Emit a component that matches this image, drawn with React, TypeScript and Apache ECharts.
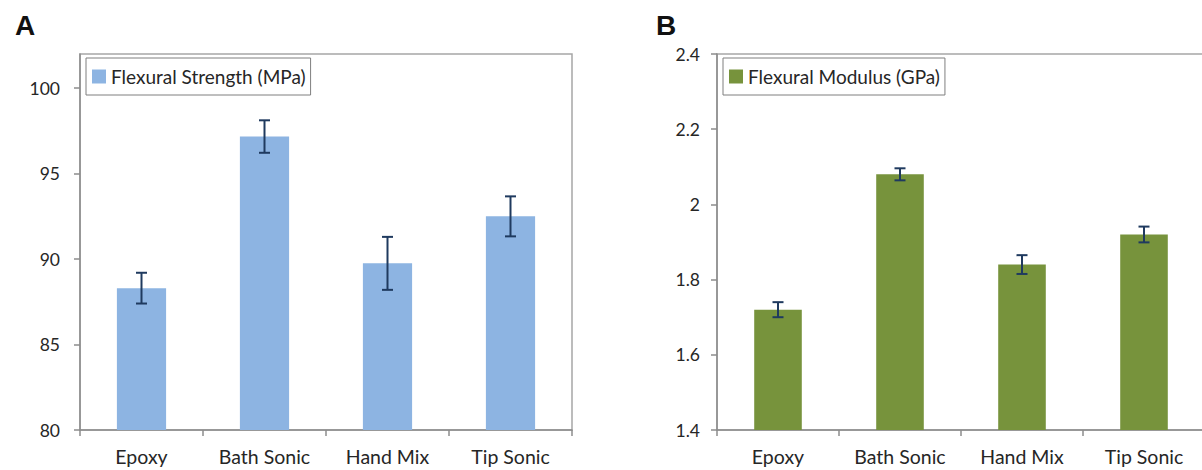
import React, { useEffect, useRef } from "react";
import * as echarts from "echarts";

// Sample preparation methods shown on both panels
const categories = ["Epoxy", "Bath Sonic", "Hand Mix", "Tip Sonic"];

// Panel A: flexural strength (MPa), mean and ± error
const strengthName = "Flexural Strength (MPa)";
const strengthMean = [88.3, 97.17, 89.75, 92.5];
const strengthErr = [0.9, 0.95, 1.55, 1.17];
const strengthTicks = [80, 85, 90, 95, 100];

// Panel B: flexural modulus (GPa), mean and ± error
const modulusName = "Flexural Modulus (GPa)";
const modulusMean = [1.72, 2.08, 1.84, 1.92];
const modulusErr = [0.02, 0.016, 0.025, 0.021];
const modulusTicks = [1.4, 1.6, 1.8, 2, 2.2, 2.4];

const FONT = "Lato, 'Liberation Sans', sans-serif";
const TEXT = "#262626";
const AXIS = "#8c8c8c";
const BOX = "#a6a6a6";
const ERR = "#1f3a5f";

function errorRenderer(params: any, api: any) {
  const idx = api.value(0);
  const lo = api.coord([idx, api.value(1)]);
  const hi = api.coord([idx, api.value(2)]);
  const half = 5.5;
  const style = { stroke: ERR, lineWidth: 2 };
  return {
    type: "group",
    children: [
      { type: "line", shape: { x1: hi[0], y1: hi[1], x2: lo[0], y2: lo[1] }, style },
      { type: "line", shape: { x1: hi[0] - half, y1: hi[1], x2: hi[0] + half, y2: hi[1] }, style },
      { type: "line", shape: { x1: lo[0] - half, y1: lo[1], x2: lo[0] + half, y2: lo[1] }, style },
    ],
  };
}

function xAxisFor(gridIndex: number) {
  return {
    type: "category",
    gridIndex,
    data: categories,
    axisLine: { lineStyle: { color: AXIS, width: 1.5 } },
    axisTick: { show: true, interval: 0, length: 6, lineStyle: { color: AXIS, width: 1.5 } },
    axisLabel: { interval: 0, color: TEXT, fontFamily: FONT, fontSize: 19.5, margin: 16 },
    splitLine: { show: false },
    splitArea: { show: false },
  };
}

function yAxisFor(gridIndex: number, min: number, max: number, ticks: number[], margin: number) {
  return {
    type: "value",
    gridIndex,
    min,
    max,
    axisLine: { show: true, lineStyle: { color: AXIS, width: 1.5 } },
    axisTick: { show: true, length: 6, customValues: ticks, lineStyle: { color: AXIS, width: 1.5 } },
    axisLabel: { color: TEXT, fontFamily: FONT, fontSize: 17.5, margin, customValues: ticks },
    splitLine: { show: false },
    splitArea: { show: false },
  };
}

function legendFor(name: string, left: number) {
  return {
    data: [name],
    left,
    top: 58,
    orient: "horizontal",
    icon: "rect",
    itemWidth: 14,
    itemHeight: 14,
    itemGap: 0,
    padding: [9, 5, 9, 6],
    borderColor: "#7f7f7f",
    borderWidth: 1,
    backgroundColor: "#fff",
    textStyle: { color: TEXT, fontFamily: FONT, fontSize: 19, lineHeight: 19 },
  };
}

const letterStyle = {
  fontFamily: "'Liberation Sans', Arial, sans-serif",
  fontWeight: "bold",
  fontSize: 28,
  color: "#111",
};

export default function App() {
  const ref = useRef<HTMLDivElement>(null);

  useEffect(() => {
    // Panel B's frame runs on past the right edge of the window
    document.documentElement.style.overflow = "hidden";
    document.body.style.margin = "0";
    document.body.style.overflow = "hidden";
    if (!ref.current) return;
    const chart = echarts.init(ref.current, undefined, { renderer: "svg" });

    chart.setOption({
      animation: false,
      backgroundColor: "#ffffff",
      title: [
        { text: "A", left: 10, top: 6, textStyle: letterStyle },
        { text: "B", left: 651, top: 6, textStyle: letterStyle },
      ],
      grid: [
        {
          left: 80, top: 54, width: 492, height: 376,
          outerBoundsMode: "none", containLabel: false,
          show: true, borderColor: BOX, borderWidth: 1.5, backgroundColor: "transparent",
        },
        {
          left: 717, top: 54, width: 488, height: 376,
          outerBoundsMode: "none", containLabel: false,
          show: true, borderColor: BOX, borderWidth: 1.5, backgroundColor: "transparent",
        },
      ],
      legend: [legendFor(strengthName, 86), legendFor(modulusName, 723)],
      xAxis: [xAxisFor(0), xAxisFor(1)],
      yAxis: [yAxisFor(0, 80, 102, strengthTicks, 20), yAxisFor(1, 1.4, 2.4, modulusTicks, 17)],
      series: [
        {
          name: strengthName,
          type: "bar",
          xAxisIndex: 0,
          yAxisIndex: 0,
          barWidth: "40%",
          itemStyle: { color: "#8db4e2" },
          data: strengthMean,
        },
        {
          type: "custom",
          xAxisIndex: 0,
          yAxisIndex: 0,
          renderItem: errorRenderer,
          data: strengthMean.map((m, i) => [i, m - strengthErr[i], m + strengthErr[i]]),
          z: 5,
        },
        {
          name: modulusName,
          type: "bar",
          xAxisIndex: 1,
          yAxisIndex: 1,
          barWidth: "39%",
          itemStyle: { color: "#77933c" },
          data: modulusMean,
        },
        {
          type: "custom",
          xAxisIndex: 1,
          yAxisIndex: 1,
          renderItem: errorRenderer,
          data: modulusMean.map((m, i) => [i, m - modulusErr[i], m + modulusErr[i]]),
          z: 5,
        },
      ],
    });

    return () => chart.dispose();
  }, []);

  return (
    <div
      ref={ref}
      style={{ position: "absolute", left: 0, top: 0, width: 1240, height: 470 }}
    />
  );
}
